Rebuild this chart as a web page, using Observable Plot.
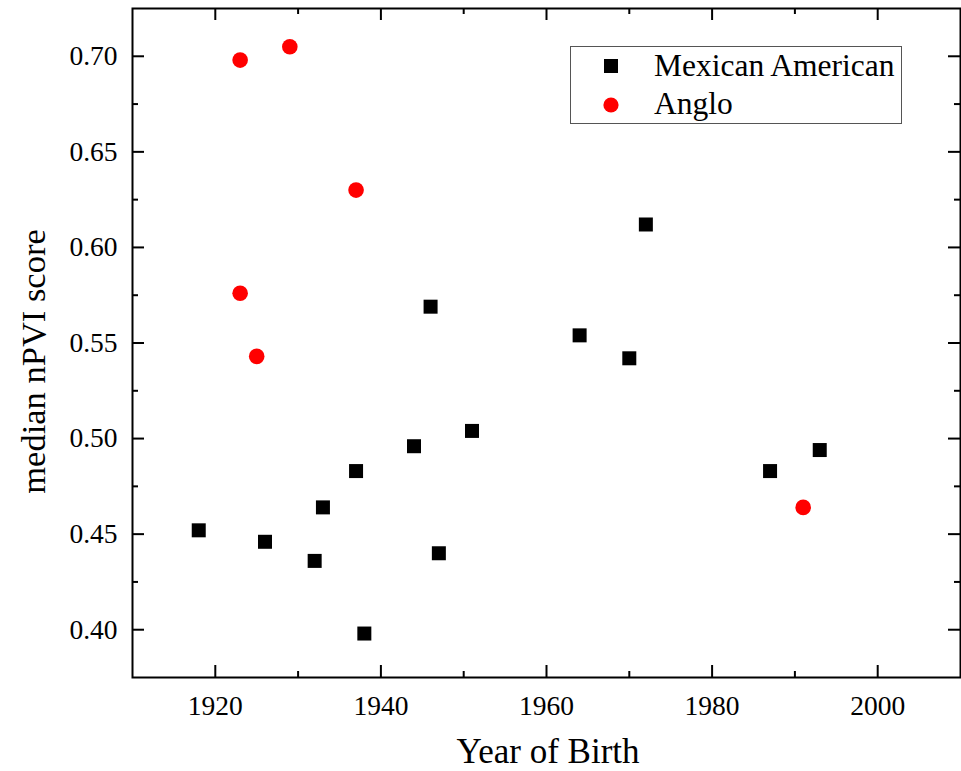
<!DOCTYPE html>
<html>
<head>
<meta charset="utf-8">
<script src="https://cdn.jsdelivr.net/npm/d3@7"></script>
<script src="https://cdn.jsdelivr.net/npm/@observablehq/plot@0.6"></script>
<style>
  body { margin: 0; background: #fff; }
  #wrap { position: relative; width: 961px; height: 771px; font-family: "Liberation Serif", "Times New Roman", serif; }
  #wrap svg text { font-family: "Liberation Serif", "Times New Roman", serif !important; }
  #wrap g[aria-label="x-axis tick label"], #wrap g[aria-label="y-axis tick label"] { font-size: 27.5px !important; }
  #wrap g[aria-label="x-axis tick label"] text, #wrap g[aria-label="y-axis tick label"] text { font-size: 27.5px !important; }
  #legend { position: absolute; left: 570px; top: 46px; }
</style>
</head>
<body>
<div id="wrap"></div>
<script>
// ---- data ----
const mexYears  = [1918, 1926, 1932, 1933, 1937, 1938, 1944, 1946, 1947, 1951, 1964, 1970, 1972, 1987, 1993];
const mexScores = [0.452, 0.446, 0.436, 0.464, 0.483, 0.398, 0.496, 0.569, 0.440, 0.504, 0.554, 0.542, 0.612, 0.483, 0.494];
const angloYears  = [1923, 1929, 1937, 1923, 1925, 1991];
const angloScores = [0.698, 0.705, 0.630, 0.576, 0.543, 0.464];
const seriesNames = ["Mexican American", "Anglo"];
const xMajor = [1920, 1940, 1960, 1980, 2000];
const xMinor = [1930, 1950, 1970, 1990];
const yMajor = [0.40, 0.45, 0.50, 0.55, 0.60, 0.65, 0.70];
const yMinor = [0.425, 0.475, 0.525, 0.575, 0.625, 0.675];
const xTitle = "Year of Birth";
const yTitle = "median nPVI score";

const mex = mexYears.map((x, i) => ({x, y: mexScores[i]}));
const anglo = angloYears.map((x, i) => ({x, y: angloScores[i]}));

const SERIF = '"Liberation Serif", "Times New Roman", serif';
const W = 961, H = 771;
const mL = 132, mR = 1, mT = 8, mB = 94;
const innerH = H - mT - mB, innerW = W - mL - mR;
const major = 12, minor = 6;

const chart = Plot.plot({
  width: W, height: H,
  marginLeft: mL, marginRight: mR, marginTop: mT, marginBottom: mB,
  style: {fontFamily: SERIF, background: "#fff", color: "#000"},
  x: {domain: [1910, 2010], axis: null},
  y: {domain: [0.375, 0.725], axis: null},
  marks: [
    // tick labels
    Plot.axisX(xMajor, {anchor: "bottom", tickSize: 0, tickPadding: 18, fontSize: 27.5, fontFamily: SERIF, tickFormat: d => String(d), label: null}),
    Plot.axisY(yMajor, {anchor: "left", tickSize: 0, tickPadding: 15, fontSize: 27.5, fontFamily: SERIF, tickFormat: d3.format(".2f"), label: null}),
    // inward ticks: bottom & top
    Plot.tickX(xMajor, {x: d => d, insetTop: innerH - major, stroke: "#000", strokeWidth: 2}),
    Plot.tickX(xMinor, {x: d => d, insetTop: innerH - minor, stroke: "#000", strokeWidth: 2}),
    Plot.tickX(xMajor, {x: d => d, insetBottom: innerH - major, stroke: "#000", strokeWidth: 2}),
    Plot.tickX(xMinor, {x: d => d, insetBottom: innerH - minor, stroke: "#000", strokeWidth: 2}),
    // inward ticks: left & right
    Plot.tickY(yMajor, {y: d => d, insetRight: innerW - major, stroke: "#000", strokeWidth: 2}),
    Plot.tickY(yMinor, {y: d => d, insetRight: innerW - minor, stroke: "#000", strokeWidth: 2}),
    Plot.tickY(yMajor, {y: d => d, insetLeft: innerW - major, stroke: "#000", strokeWidth: 2}),
    Plot.tickY(yMinor, {y: d => d, insetLeft: innerW - minor, stroke: "#000", strokeWidth: 2}),
    Plot.frame({stroke: "#000", strokeWidth: 2}),
    // data
    Plot.dot(mex, {x: "x", y: "y", symbol: "square", r: 7.9, fill: "#000", stroke: "none"}),
    Plot.dot(anglo, {x: "x", y: "y", symbol: "circle", r: 7.8, fill: "#ff0000", stroke: "none"})
  ]
});
document.getElementById("wrap").appendChild(chart);

// axis titles
const svg = d3.select(chart);
svg.append("text").attr("x", 548).attr("y", 763).attr("text-anchor", "middle")
  .attr("font-size", 35).attr("font-family", SERIF).attr("fill", "#000").text(xTitle);
svg.append("text").attr("transform", "translate(45,361.5) rotate(-90)").attr("text-anchor", "middle")
  .attr("font-size", 34.5).attr("font-family", SERIF).attr("fill", "#000").text(yTitle);

// legend (drawn as a small overlay)
const lg = d3.select("#wrap").append("svg").attr("id", "legend")
  .attr("width", 333).attr("height", 79);
lg.append("rect").attr("x", 0.5).attr("y", 0.5).attr("width", 331).attr("height", 77)
  .attr("fill", "#fff").attr("stroke", "#555").attr("stroke-width", 1);
const sq = d3.symbol(d3.symbolSquare, 14 * 14)();
const ci = d3.symbol(d3.symbolCircle, Math.PI * 7.6 * 7.6)();
lg.append("path").attr("d", sq).attr("transform", "translate(41,20)").attr("fill", "#000");
lg.append("path").attr("d", ci).attr("transform", "translate(41,59)").attr("fill", "#ff0000");
lg.selectAll("text.lab").data(seriesNames).join("text")
  .attr("x", 84).attr("y", (d, i) => i === 0 ? 30 : 68)
  .attr("font-size", 31.5).attr("font-family", SERIF)
  .attr("fill", "#000").text(d => d);
</script>
</body>
</html>
